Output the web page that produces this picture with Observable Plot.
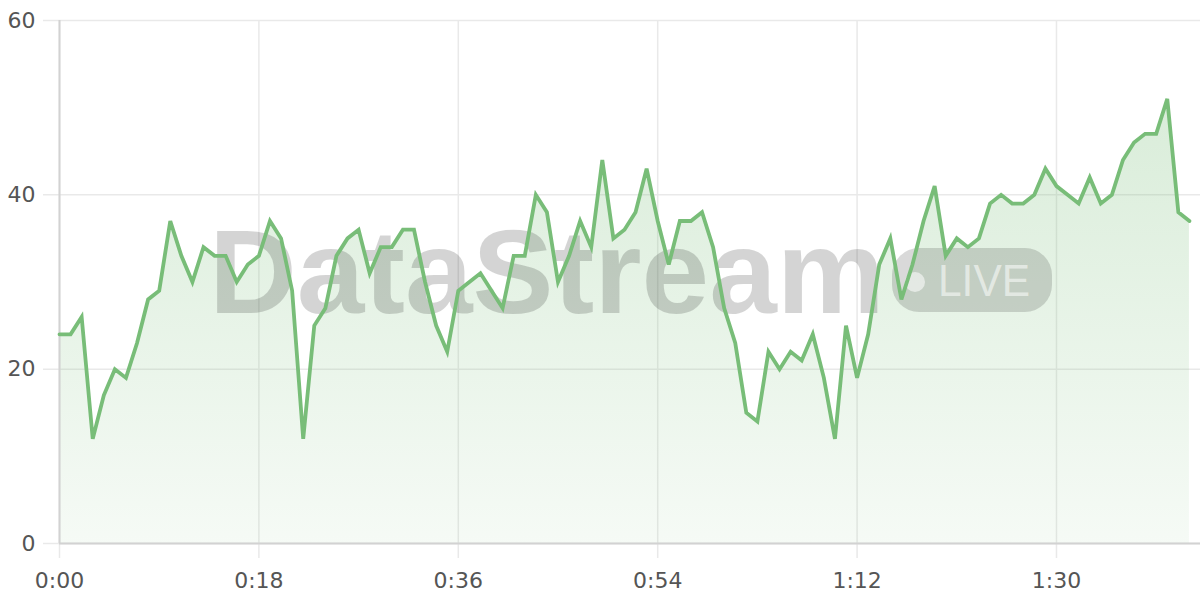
<!DOCTYPE html>
<html>
<head>
<meta charset="utf-8">
<script src="https://cdn.jsdelivr.net/npm/d3@7"></script>
<script src="https://cdn.jsdelivr.net/npm/@observablehq/plot@0.6"></script>
<style>
  html, body { margin: 0; padding: 0; background: #fff; }
  #chart { width: 1200px; height: 600px; }
</style>
</head>
<body>
<div id="chart"></div>
<script>
// Values per second (index = elapsed seconds)
const values = [24,24,26,12,17,20,19,23,28,29,
                37,33,30,34,33,33,30,32,33,37,
                35,29,12,25,27,33,35,36,31,34,
                34,36,36,30,25,22,29,30,31,29,
                27,33,33,40,38,30,33,37,34,44,
                35,36,38,43,37,32,37,37,38,34,
                27,23,15,14,22,20,22,21,24,19,
                12,25,19,24,32,35,28,32,37,41,
                33,35,34,35,39,40,39,39,40,43,
                41,40,39,42,39,40,44,46,47,47,
                51,38,37];
const xTicks = [0, 18, 36, 54, 72, 90];
const yTicks = [0, 20, 40, 60];
const watermarkText = "DataStream";
const badgeText = "LIVE";

const rows = values.map((v, i) => ({t: i, v}));
const fmtTime = d => `${Math.floor(d / 60)}:${String(d % 60).padStart(2, "0")}`;
const FONT = "'DejaVu Sans', 'Liberation Sans', sans-serif";
const WMFONT = "'Liberation Sans', Arial, Helvetica, sans-serif";

const plot = Plot.plot({
  width: 1200,
  height: 600,
  marginLeft: 59,
  marginRight: 0,
  marginTop: 20,
  marginBottom: 57,
  style: {fontFamily: FONT, fontSize: "22px", color: "#555", background: "#fff", overflow: "visible"},
  x: {domain: [0, 103], ticks: xTicks, tickFormat: fmtTime, tickSize: 0, tickPadding: 29, label: null},
  y: {domain: [0, 60], ticks: yTicks, tickSize: 0, tickPadding: 24, label: null},
  marks: [
    Plot.ruleY(yTicks, {stroke: "#e9e9e9", strokeWidth: 1.5, insetLeft: -16}),
    Plot.ruleX(xTicks, {stroke: "#e9e9e9", strokeWidth: 1.5, insetBottom: -15}),
    Plot.areaY(rows, {x: "t", y: "v", fill: "url(#areaGrad)"}),
    Plot.ruleY([0], {stroke: "#d2d2d2", strokeWidth: 2}),
    Plot.ruleX([0], {stroke: "#d2d2d2", strokeWidth: 2}),
    Plot.line(rows, {x: "t", y: "v", stroke: "#78bd78", strokeWidth: 3.8, strokeLinejoin: "miter", strokeMiterlimit: 4})
  ]
});

document.getElementById("chart").appendChild(plot);

const svg = d3.select(plot);
const ns = "http://www.w3.org/2000/svg";
const defs = svg.insert("defs", ":first-child");
const grad = defs.append("linearGradient")
  .attr("id", "areaGrad").attr("x1", 0).attr("y1", 0).attr("x2", 0).attr("y2", 1);
grad.append("stop").attr("offset", "0%").attr("stop-color", "#78bd78").attr("stop-opacity", 0.28);
grad.append("stop").attr("offset", "100%").attr("stop-color", "#78bd78").attr("stop-opacity", 0.07);

// Watermark, placed below the line
const lineG = plot.querySelector('g[aria-label="line"]');
const wm = document.createElementNS(ns, "g");
if (lineG) plot.insertBefore(wm, lineG); else plot.appendChild(wm);
const w = d3.select(wm).attr("pointer-events", "none").attr("text-anchor", "start");
w.append("text")
  .attr("x", 209).attr("y", 313).attr("text-anchor", "start")
  .attr("font-family", WMFONT).attr("font-weight", "bold").attr("font-size", 118)
  .attr("textLength", 676).attr("lengthAdjust", "spacingAndGlyphs")
  .attr("fill", "#000").attr("fill-opacity", 0.17)
  .text(watermarkText);
w.append("rect")
  .attr("x", 892).attr("y", 248).attr("width", 160).attr("height", 64).attr("rx", 27)
  .attr("fill", "#000").attr("fill-opacity", 0.15);
w.append("circle")
  .attr("cx", 915).attr("cy", 282).attr("r", 10)
  .attr("fill", "#fff").attr("fill-opacity", 0.55);
w.append("text")
  .attr("x", 938).attr("y", 296).attr("text-anchor", "start")
  .attr("font-family", WMFONT).attr("font-size", 44)
  .attr("textLength", 92).attr("lengthAdjust", "spacingAndGlyphs")
  .attr("fill", "#fff").attr("fill-opacity", 0.55)
  .text(badgeText);
</script>
</body>
</html>
